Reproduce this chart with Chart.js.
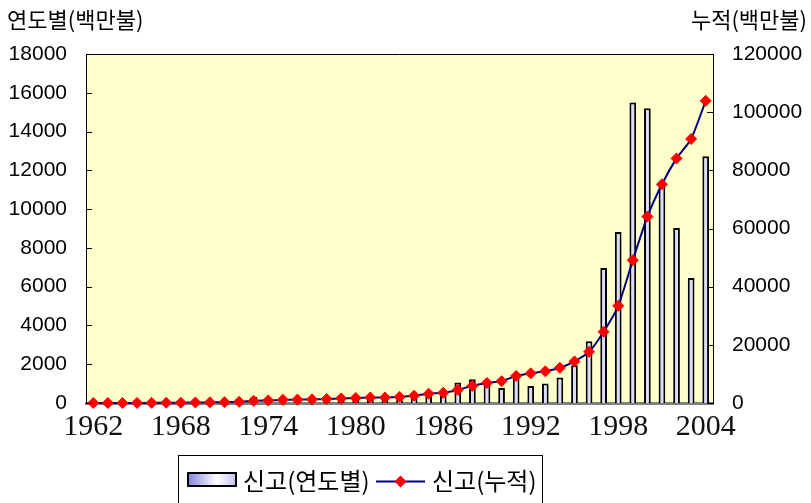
<!DOCTYPE html>
<html>
<head>
<meta charset="utf-8">
<script src="https://cdn.jsdelivr.net/npm/chart.js@4"></script>
<style>
  html, body { margin: 0; padding: 0; background: #fff; }
  #wrap { width: 811px; height: 503px; }
</style>
</head>
<body>
<div id="wrap"><canvas id="myChart" width="811" height="503"></canvas></div>
<script>
var years = ['1962','1963','1964','1965','1966','1967','1968','1969','1970','1971',
  '1972','1973','1974','1975','1976','1977','1978','1979','1980','1981',
  '1982','1983','1984','1985','1986','1987','1988','1989','1990','1991',
  '1992','1993','1994','1995','1996','1997','1998','1999','2000','2001',
  '2002','2003','2004'];

// 신고(연도별), 백만불 - left axis
var annual = [1, 6, 1, 22, 16, 31, 27, 60, 76, 42,
  120, 320, 160, 210, 80, 80, 150, 190, 140, 150,
  190, 270, 250, 420, 400, 1060, 1220, 930, 770, 1330,
  880, 1000, 1310, 1950, 3180, 6960, 8820, 15500, 15200, 11250,
  9020, 6450, 12720];

// 신고(누적), 백만불 - right axis
var cumulative = [1, 7, 8, 30, 46, 77, 104, 164, 240, 282,
  400, 720, 880, 1090, 1170, 1250, 1400, 1590, 1730, 1890,
  1900, 2100, 2500, 3200, 3500, 4500, 5900, 6900, 7500, 9300,
  10200, 10900, 12100, 14300, 17600, 24500, 33400, 49100, 64100, 75200,
  84100, 90800, 103900];

var leftTicks = [0, 2000, 4000, 6000, 8000, 10000, 12000, 14000, 16000, 18000];
var rightTicks = [0, 20000, 40000, 60000, 80000, 100000, 120000];

var seriesNames = ['신고(연도별)', '신고(누적)'];
var axisTitles = ['연도별(백만불)', '누적(백만불)'];

var hangulFont = '"Noto Sans CJK KR", "Noto Sans", sans-serif';

var decor = {
  id: 'decor',
  beforeDraw: function (chart) {
    var c = chart.ctx, a = chart.chartArea;
    c.save();
    c.fillStyle = '#FFFFCC';
    c.fillRect(a.left, a.top, a.right - a.left, a.bottom - a.top);
    c.restore();
  },
  afterDraw: function (chart) {
    var c = chart.ctx, a = chart.chartArea;
    c.save();
    // top border of plot
    c.strokeStyle = '#000';
    c.lineWidth = 1;
    c.beginPath();
    c.moveTo(a.left, a.top + 0.5);
    c.lineTo(a.right, a.top + 0.5);
    c.stroke();
    // inner tick marks
    var ys = chart.scales.y, yr = chart.scales.y1;
    c.beginPath();
    leftTicks.forEach(function (v) {
      var p = Math.round(ys.getPixelForValue(v)) + 0.5;
      c.moveTo(a.left, p); c.lineTo(a.left + 6, p);
    });
    rightTicks.forEach(function (v) {
      var p = Math.round(yr.getPixelForValue(v)) + 0.5;
      c.moveTo(a.right - 6, p); c.lineTo(a.right, p);
    });
    c.stroke();

    // axis titles
    c.fillStyle = '#000';
    c.font = '22px ' + hangulFont;
    c.textBaseline = 'middle';
    c.textAlign = 'left';
    c.fillText(axisTitles[0], 7, 20);
    c.textAlign = 'right';
    c.fillText(axisTitles[1], 807, 20);

    // legend box
    c.strokeStyle = '#000';
    c.lineWidth = 1;
    c.strokeRect(178.5, 455.5, 364, 60);
    var g = c.createLinearGradient(187, 0, 237, 0);
    g.addColorStop(0, '#8080E0');
    g.addColorStop(0.6, '#FFFFFF');
    g.addColorStop(1, '#C0C0F0');
    c.fillStyle = g;
    c.fillRect(187, 472, 50, 15);
    c.lineWidth = 2;
    c.strokeRect(188, 473, 48, 13);
    c.fillStyle = '#000';
    c.font = '24px ' + hangulFont;
    c.textAlign = 'left';
    c.textBaseline = 'middle';
    c.fillText(seriesNames[0], 243, 481);
    c.strokeStyle = '#000080';
    c.lineWidth = 2;
    c.beginPath();
    c.moveTo(376, 481.5); c.lineTo(425, 481.5);
    c.stroke();
    c.fillStyle = '#FF0000';
    c.beginPath();
    c.moveTo(400.5, 475.5); c.lineTo(406.5, 481.5); c.lineTo(400.5, 487.5); c.lineTo(394.5, 481.5);
    c.closePath();
    c.fill();
    c.fillStyle = '#000';
    c.fillText(seriesNames[1], 432, 481);
    c.restore();
  }
};

var ctx = document.getElementById('myChart').getContext('2d');
var myChart = new Chart(ctx, {
  type: 'bar',
  data: {
    labels: years,
    datasets: [{
      type: 'line',
      label: seriesNames[1],
      data: cumulative,
      yAxisID: 'y1',
      order: 0,
      borderColor: '#000080',
      borderWidth: 2,
      tension: 0.2,
      pointStyle: 'rectRot',
      pointRadius: 5.5,
      pointBackgroundColor: '#FF0000',
      pointBorderColor: '#FF0000',
      pointBorderWidth: 1,
      clip: false
    }, {
      type: 'bar',
      label: seriesNames[0],
      data: annual,
      yAxisID: 'y',
      order: 1,
      backgroundColor: '#DCDCFF',
      borderColor: '#000000',
      borderWidth: 2,
      barPercentage: 0.46,
      categoryPercentage: 1
    }]
  },
  options: {
    responsive: false,
    animation: false,
    events: [],
    layout: { padding: { top: 54, left: 0, right: 0, bottom: 0 } },
    plugins: {
      legend: { display: false },
      tooltip: { enabled: false }
    },
    scales: {
      x: {
        offset: true,
        grid: { display: false, drawTicks: false },
        border: { display: true, color: '#808080', width: 3 },
        afterFit: function (s) { s.height = 100; },
        ticks: {
          autoSkip: false,
          maxRotation: 0,
          padding: 6,
          color: '#111',
          font: { family: '"Liberation Serif", "Times New Roman", serif', size: 30 },
          callback: function (v, i) { return i % 6 === 0 ? years[i] : ''; }
        }
      },
      y: {
        position: 'left',
        min: 0,
        max: 18000,
        afterFit: function (s) { s.width = 86; },
        afterBuildTicks: function (s) { s.ticks = leftTicks.map(function (v) { return { value: v }; }); },
        grid: { display: false, drawTicks: false },
        border: { display: true, color: '#000', width: 1 },
        ticks: {
          padding: 19,
          color: '#000',
          font: { family: '"Liberation Sans", Arial, sans-serif', size: 21 },
          callback: function (v) { return String(v); }
        }
      },
      y1: {
        position: 'right',
        min: 0,
        max: 120000,
        afterFit: function (s) { s.width = 98; },
        afterBuildTicks: function (s) { s.ticks = rightTicks.map(function (v) { return { value: v }; }); },
        grid: { display: false, drawTicks: false },
        border: { display: true, color: '#000', width: 1 },
        ticks: {
          padding: 19,
          color: '#000',
          font: { family: '"Liberation Sans", Arial, sans-serif', size: 21 },
          callback: function (v) { return String(v); }
        }
      }
    }
  },
  plugins: [decor]
});
</script>
</body>
</html>
